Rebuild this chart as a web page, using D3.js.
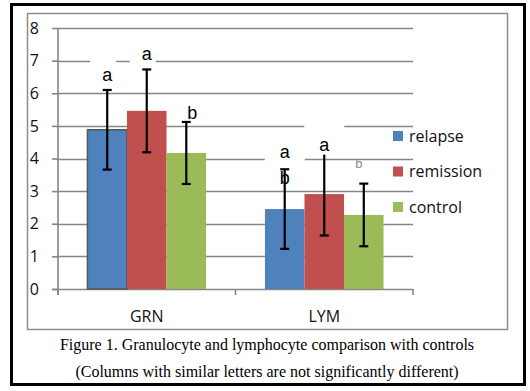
<!DOCTYPE html>
<html>
<head>
<meta charset="utf-8">
<script src="https://cdn.jsdelivr.net/npm/d3@7"></script>
<style>
  body { margin: 0; background: #fff; }
</style>
</head>
<body>
<div id="chart"></div>
<script>

  // data
  var categories = ["GRN", "LYM"];
  var series = ["relapse", "remission", "control"];
  var colors = ["#4F81BD", "#C0504D", "#9BBB59"];
  var means = [
    [4.88, 5.46, 4.17],   // GRN
    [2.45, 2.91, 2.27]    // LYM
  ];
  var errors = [
    [1.22, 1.27, 0.95],
    [1.22, 1.27, 0.96]
  ];
  // significance letters: [category, series, letter, style]
  var letters = [
    ["GRN", 0, "a", "box"], ["GRN", 1, "a", "box"], ["GRN", 2, "b", "plain"],
    ["LYM", 0, "a", "box"], ["LYM", 0, "b", "plain"], ["LYM", 1, "a", "box"], ["LYM", 2, "b", "faint"]
  ];
  var yTicks = [0, 1, 2, 3, 4, 5, 6, 7, 8];
  var caption = [
    "Figure 1. Granulocyte and lymphocyte comparison with controls",
    "(Columns with similar letters are not significantly different)"
  ];

  var width = 530, height = 391;
  var svg = d3.select("#chart").append("svg")
    .attr("width", width)
    .attr("height", height);

  // frames
  svg.append("rect")
    .attr("x", 11.5).attr("y", 4.5).attr("width", 513).attr("height", 380)
    .attr("fill", "#fff").attr("stroke", "#000").attr("stroke-width", 3);
  svg.append("rect")
    .attr("x", 27.5).attr("y", 13.5).attr("width", 480).attr("height", 316)
    .attr("fill", "none").attr("stroke", "#8c8c8c").attr("stroke-width", 1.5);

  var plot = { left: 58, right: 413, top: 28, bottom: 289 };

  var y = d3.scaleLinear().domain([0, 8]).range([plot.bottom, plot.top]);
  var x0 = d3.scaleBand().domain(categories).range([plot.left, plot.right]);
  var x1 = d3.scaleBand().domain(d3.range(series.length))
    .range([0, x0.bandwidth()]).paddingInner(0).paddingOuter(0.745);

  var gridColor = "#868686";

  // gridlines
  svg.append("g").selectAll("line")
    .data(yTicks.slice(1))
    .enter().append("line")
    .attr("x1", plot.left).attr("x2", plot.right)
    .attr("y1", function(d) { return Math.round(y(d)) + 0.5; })
    .attr("y2", function(d) { return Math.round(y(d)) + 0.5; })
    .attr("stroke", gridColor).attr("stroke-width", 1.6);

  // y axis
  var yAxis = svg.append("g")
    .attr("transform", "translate(" + plot.left + ",0)")
    .call(d3.axisLeft(y).tickValues(yTicks).tickSize(6).tickPadding(13).tickFormat(d3.format("d")));
  yAxis.select(".domain").attr("stroke", gridColor).attr("stroke-width", 1.6)
    .attr("d", "M0," + plot.top + "V" + (plot.bottom + 6));
  yAxis.selectAll(".tick line").attr("stroke", gridColor).attr("stroke-width", 1.6);
  yAxis.selectAll(".tick text")
    .attr("font-family", "Open Sans").attr("font-size", 16).attr("fill", "#111");

  // x axis
  var xAxisG = svg.append("g").attr("transform", "translate(0," + plot.bottom + ")");
  xAxisG.append("line")
    .attr("x1", plot.left - 6).attr("x2", plot.right)
    .attr("y1", 0.5).attr("y2", 0.5)
    .attr("stroke", gridColor).attr("stroke-width", 1.6);
  xAxisG.selectAll(".xtick")
    .data([plot.left].concat(categories.map(function(c) { return x0(c) + x0.bandwidth(); })))
    .enter().append("line")
    .attr("x1", function(d) { return d; }).attr("x2", function(d) { return d; })
    .attr("y1", 0).attr("y2", 6)
    .attr("stroke", gridColor).attr("stroke-width", 1.6);
  xAxisG.selectAll(".xlab")
    .data(categories)
    .enter().append("text")
    .attr("x", function(d) { return x0(d) + x0.bandwidth() / 2; })
    .attr("y", 33)
    .attr("text-anchor", "middle")
    .attr("font-family", "Open Sans").attr("font-size", 16).attr("fill", "#111")
    .text(function(d) { return d; });

  // bars
  var groups = svg.append("g").selectAll("g")
    .data(categories)
    .enter().append("g")
    .attr("transform", function(d) { return "translate(" + x0(d) + ",0)"; });

  groups.selectAll("rect")
    .data(function(c, ci) { return means[ci].map(function(v, si) { return { c: c, si: si, v: v }; }); })
    .enter().append("rect")
    .attr("x", function(d) { return x1(d.si); })
    .attr("width", x1.bandwidth())
    .attr("y", function(d) { return y(d.v); })
    .attr("height", function(d) { return y(0) - y(d.v); })
    .attr("fill", function(d) { return colors[d.si]; })
    .attr("stroke", function(d) { return (d.c === "GRN" && d.si === 0) ? "#555" : "none"; })
    .attr("stroke-width", 1.5);

  // letters (drawn before error bars so the bars cross them)
  var letterG = svg.append("g");
  letters.forEach(function(l) {
    var ci = categories.indexOf(l[0]), si = l[1];
    var cx = x0(l[0]) + x1(si) + x1.bandwidth() / 2;
    var top = y(means[ci][si] + errors[ci][si]);
    var cy, dx = 0, size = 18, fill = "#000";
    if (l[3] === "box") {
      cy = top - (ci === 0 && si === 0 ? 15 : (ci === 0 ? 16 : (si === 0 ? 18 : 8)));
    } else if (l[3] === "plain") {
      cy = ci === 0 ? top - 9 : top + 8;
      dx = ci === 0 ? 6 : 0;
    } else {
      cy = top - 20; dx = -5; size = 13; fill = "#8a8a8a";
    }
    if (l[3] === "box") {
      letterG.append("rect")
        .attr("x", cx + dx - (ci === 0 ? 17 : 20)).attr("y", cy - 20)
        .attr("width", ci === 0 ? 26 : 40).attr("height", 30)
        .attr("fill", "#fff");
    }
    letterG.append("text")
      .attr("x", cx + dx).attr("y", cy)
      .attr("dy", "0.35em")
      .attr("text-anchor", "middle")
      .attr("font-family", "Liberation Sans").attr("font-size", size)
      .attr("fill", fill)
      .text(l[2]);
  });

  // error bars
  groups.each(function(c, ci) {
    var g = d3.select(this);
    means[ci].forEach(function(v, si) {
      var cx = x1(si) + x1.bandwidth() / 2;
      var hi = y(v + errors[ci][si]), lo = y(v - errors[ci][si]);
      g.append("line").attr("x1", cx).attr("x2", cx).attr("y1", hi).attr("y2", lo)
        .attr("stroke", "#000").attr("stroke-width", 2.2);
      [hi, lo].forEach(function(yy) {
        g.append("line").attr("x1", cx - 4.5).attr("x2", cx + 4.5).attr("y1", yy).attr("y2", yy)
          .attr("stroke", "#000").attr("stroke-width", 2.2);
      });
    });
  });

  // legend
  var legend = svg.append("g").attr("transform", "translate(393,131)");
  var items = legend.selectAll("g")
    .data(series)
    .enter().append("g")
    .attr("transform", function(d, i) { return "translate(0," + (i * 35.5) + ")"; });
  items.append("rect")
    .attr("width", 10).attr("height", 10)
    .attr("fill", function(d, i) { return colors[i]; });
  items.append("text")
    .attr("x", 16).attr("y", 5).attr("dy", "0.35em")
    .attr("font-family", "Open Sans").attr("font-size", 16).attr("fill", "#111")
    .text(function(d) { return d; });

  // caption
  svg.append("g").selectAll("text")
    .data(caption)
    .enter().append("text")
    .attr("x", 267)
    .attr("y", function(d, i) { return 350 + i * 27; })
    .attr("text-anchor", "middle")
    .attr("font-family", "Liberation Serif").attr("font-size", 16).attr("fill", "#000")
    .text(function(d) { return d; });

</script>
</body>
</html>
